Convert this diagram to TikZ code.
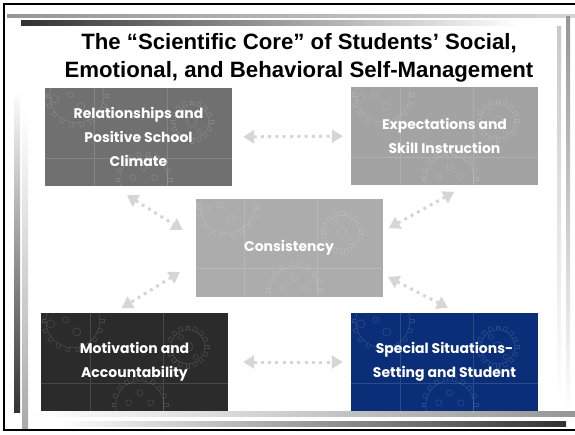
\documentclass[tikz,border=0pt]{standalone}
\usepackage{fontspec}
\setmainfont{Liberation Sans}
\newfontfamily\boxfont{Poppins}
\usetikzlibrary{arrows.meta}

\definecolor{darkbar}{RGB}{50,50,50}
\definecolor{midbar}{RGB}{150,150,150}
\definecolor{lightbar}{RGB}{200,200,200}
\definecolor{linkgray}{RGB}{214,214,214}
\definecolor{relgray}{RGB}{112,112,112}
\definecolor{expgray}{RGB}{163,163,163}
\definecolor{consgray}{RGB}{172,172,172}
\definecolor{motgray}{RGB}{43,43,43}
\definecolor{specblue}{RGB}{10,46,120}

% one toothed wheel: x, y, radius, teeth
\newcommand{\gearwheel}[4]{%
  \draw (#1,#2) circle (#3);
  \foreach \t in {1,...,#4}
    \draw[shift={(#1,#2)}, rotate=360/#4*\t] (#3,-1.8) -- (#3+4,-1.8) -- (#3+4,1.8) -- (#3,1.8);
}

\tikzset{
  box/.style={rectangle, minimum width=187pt, minimum height=98pt, inner sep=0pt,
    align=center, text=white, font=\boxfont\bfseries\fontsize{14}{24}\selectfont},
  wheels/.style={draw=white, draw opacity=0.14, line width=0.6pt},
  link/.style={draw=linkgray, line width=3pt, dash pattern=on 3pt off 4.3pt,
    {Triangle[length=11pt,width=13pt]}-{Triangle[length=11pt,width=13pt]}},
}

\begin{document}
\begin{tikzpicture}[x=1pt,y=-1pt]
  \useasboundingbox (0,0) rectangle (575,434);
  \fill[white] (0,0) rectangle (575,434);

  % slide frame
  \draw[line width=2.5pt] (4,4) rectangle (578,430);
  \shade[left color=midbar, right color=midbar!40] (7,14) rectangle (575,17);
  \shade[left color=darkbar, right color=white] (21,20) rectangle (520,25);
  \shade[top color=midbar, bottom color=white] (566,16) rectangle (570,411);
  \shade[top color=lightbar, bottom color=white] (557,26) rectangle (561,400);
  \shade[top color=white, bottom color=darkbar] (14,90) rectangle (20,412);
  \shade[top color=white, bottom color=lightbar!85!black] (22,110) rectangle (28,428);
  \shade[left color=white, right color=midbar] (30,411) rectangle (575,416);
  \shade[left color=white, right color=darkbar] (60,421) rectangle (566,426);

  \node[align=center, font=\bfseries\fontsize{22.2}{28}\selectfont] (title) at (299,58)
    {The “Scientific Core” of Students’ Social,\\Emotional, and Behavioral Self-Management};

  \node[box, fill=relgray] (rel) at (138.5,137) {};
  \node[box, fill=expgray] (exp) at (444.5,136) {};
  \node[box, fill=consgray] (cons) at (289,247.5) {};
  \node[box, fill=motgray] (mot) at (134.5,362) {};
  \node[box, fill=specblue] (spec) at (444.5,362) {};

  % faint wheels behind the labels
  \foreach \b in {rel,exp,cons,mot,spec} {
    \begin{scope}[wheels]
      \clip (\b.north west) rectangle (\b.south east);
      \begin{scope}[shift={(\b.north west)}]
        \gearwheel{32}{8}{27}{18}
        \draw (10,11) circle (4) (25,7) circle (3) (36,19) circle (4);
        \gearwheel{147}{34}{17}{16}
        \draw (147,34) circle (5) (140,24) circle (2.5) (155,44) circle (2.5);
        \gearwheel{99}{92}{24}{18}
        \draw (99,80) circle (3) (88,90) circle (3) (110,90) circle (3);
        \draw (49,0) -- (49,98) (122,0) -- (122,98) (0,70) -- (187,70);
      \end{scope}
    \end{scope}
  }

  \node[box] at (rel) {Relationships and\\Positive School\\Climate};
  \node[box] at (exp) {Expectations and\\Skill Instruction};
  \node[box] at (cons) {Consistency};
  \node[box] at (mot) {Motivation and\\Accountability};
  \node[box] at (spec) {Special Situations-\\Setting and Student};

  \draw[link, shorten <=11pt, shorten >=8pt] (rel.east) -- (exp.west);
  \draw[link, shorten <=15pt, shorten >=8pt] (mot.east) -- (spec.west);
  \draw[link, shorten <=17pt, shorten >=15pt] ([xshift=-26pt]rel.south) -- ([yshift=9.7pt]cons.west);
  \draw[link, shorten <=14pt, shorten >=7pt] ([xshift=22pt]exp.south) -- ([yshift=16pt]cons.east);
  \draw[link, shorten <=18pt, shorten >=9pt] ([yshift=-15pt]cons.west) -- ([xshift=-20.5pt]mot.north);
  \draw[link, shorten <=6pt, shorten >=11pt] ([yshift=-26.7pt]cons.east) -- ([xshift=13.2pt]spec.north);
\end{tikzpicture}
\end{document}
